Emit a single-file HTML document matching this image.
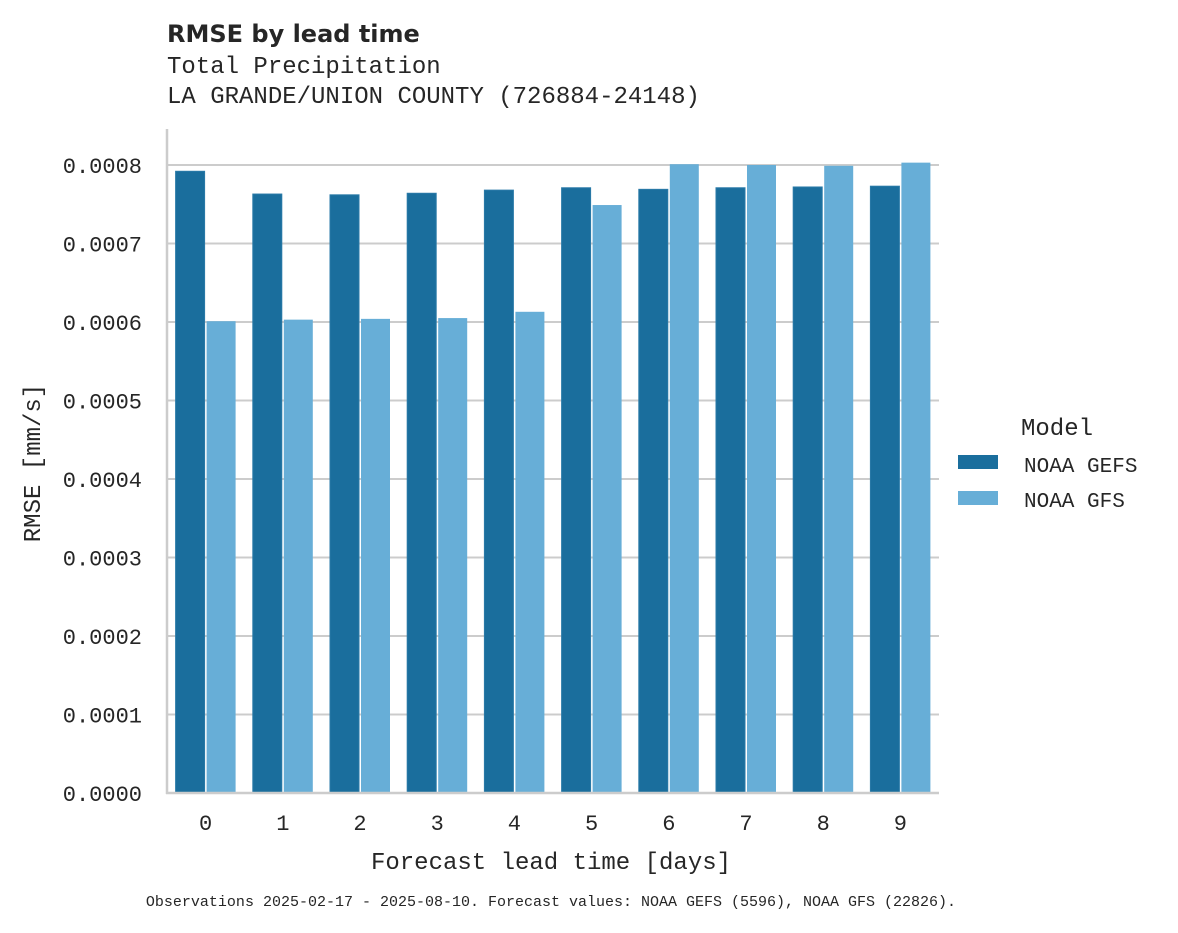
<!DOCTYPE html>
<html><head><meta charset="utf-8"><style>
body{margin:0;background:#fff}
svg text{font-family:"Liberation Mono",monospace;fill:#262626}
</style></head><body>
<svg width="1178" height="928" viewBox="0 0 1178 928">
<text x="167" y="42" style="font-family:'DejaVu Sans','Liberation Sans',sans-serif;font-weight:bold;font-size:24px">RMSE by lead time</text>
<text x="167" y="73" font-size="24">Total Precipitation</text>
<text x="167" y="103" font-size="24">LA GRANDE/UNION COUNTY (726884-24148)</text>
<g id="grid"></g>
<g id="bars"></g>
<g id="yticks"></g>
<g id="xticks"></g>
<line x1="167" y1="129" x2="167" y2="794" stroke="#cccccc" stroke-width="2.5"/>
<line x1="166" y1="793" x2="939" y2="793" stroke="#cccccc" stroke-width="2.5"/>
<text x="40" y="463" font-size="24" text-anchor="middle" transform="rotate(-90 40 463)">RMSE [mm/s]</text>
<text x="551" y="869" font-size="24" text-anchor="middle">Forecast lead time [days]</text>
<text x="1057" y="435" font-size="24" text-anchor="middle">Model</text>
<g><rect x="958" y="455" width="40" height="14" fill="#1a6e9d"/><text x="1024" y="472" font-size="21">NOAA GEFS</text></g>
<g><rect x="958" y="491" width="40" height="14" fill="#67aed7"/><text x="1024" y="507" font-size="21">NOAA GFS</text></g>
<text x="551" y="906" font-size="15" text-anchor="middle">Observations 2025-02-17 - 2025-08-10. Forecast values: NOAA GEFS (5596), NOAA GFS (22826).</text>
</svg>
<script>
const categories=["0","1","2","3","4","5","6","7","8","9"];
const gefs=[0.000792,0.000763,0.000762,0.000764,0.000768,0.000771,0.000769,0.000771,0.000772,0.000773];
const gfs=[0.000601,0.000603,0.000604,0.000605,0.000613,0.000749,0.000801,0.000800,0.000799,0.000803];
const yTicks=[0,0.0001,0.0002,0.0003,0.0004,0.0005,0.0006,0.0007,0.0008];
const NS="http://www.w3.org/2000/svg";
const y=v=>793-v/0.0008*628;
const x0=167,bw=(939-167)/categories.length;
const xc=i=>x0+bw*(i+0.5);
const g=document.getElementById('grid'),b=document.getElementById('bars'),yt=document.getElementById('yticks'),xt=document.getElementById('xticks');
function mk(t,a,p){const e=document.createElementNS(NS,t);for(const k in a)e.setAttribute(k,a[k]);p.appendChild(e);return e;}
yTicks.forEach(v=>{
 if(v>0){const l=mk('line',{x1:167,x2:939,y1:y(v),y2:y(v),stroke:'#cccccc','stroke-width':2},g);
 
 }
 const t=mk('text',{x:142,y:y(v)+8,'font-size':22,'text-anchor':'end'},yt);
 t.textContent=v.toFixed(4);
 
 
});
categories.forEach((c,i)=>{
 const w=29,cx=xc(i);
 const r1=mk('rect',{x:cx-w-1,y:y(gefs[i]),width:w,height:793-y(gefs[i]),fill:'#1a6e9d',stroke:'#2a7aa8','stroke-width':1},b);
 
 
 const r2=mk('rect',{x:cx+1,y:y(gfs[i]),width:w,height:793-y(gfs[i]),fill:'#67aed7'},b);
 
 
 const t=mk('text',{x:cx,y:830,'font-size':22,'text-anchor':'middle'},xt);
 t.textContent=c;
 
 
});
</script>
</body></html>
